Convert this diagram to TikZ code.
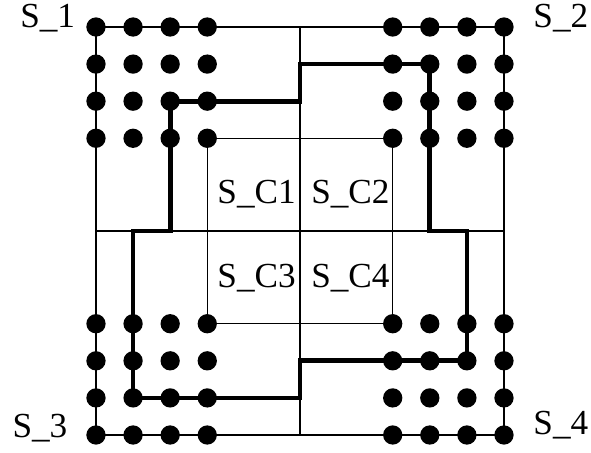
\documentclass[tikz,border=0pt]{standalone}
\usepackage{fontspec}
\setmainfont{Liberation Serif}
\usepackage{tikz}

\begin{document}
\begin{tikzpicture}[x=0.5cm,y=-0.5cm,
    dot/.style={circle,fill=black,inner sep=0pt,minimum size=0.26cm},
    lbl/.style={inner sep=0pt,font=\fontsize{13.5}{16}\selectfont}]
  \useasboundingbox (-2.588,-0.728) rectangle (13.346,11.459);
  % squares and the centre block
  \draw (0,0) rectangle (11,11);
  \draw (5.5,0) -- (5.5,11);
  \draw (0,5.5) -- (11,5.5);
  \draw (3,3) rectangle (8,8);
  % boundary
  \draw[line width=1.8pt] (5.5,1) -- (9,1) -- (9,5.5) -- (10,5.5) -- (10,9)
    -- (5.5,9) -- (5.5,10) -- (1,10) -- (1,5.5) -- (2,5.5) -- (2,2)
    -- (5.5,2) -- cycle;
  % corner points
  \foreach \c in {0,1,2,3,8,9,10,11}
    \foreach \r in {0,1,2,3,8,9,10,11}
      \node[dot] (d-\c-\r) at (\c,\r) {};
  \node[lbl,anchor=base east] (S1) at (-0.55,0) {S\_1};
  \node[lbl,anchor=base west] (S2) at (11.78,0) {S\_2};
  \node[lbl,anchor=base east] (S3) at (-0.76,11.08) {S\_3};
  \node[lbl,anchor=base west] (S4) at (11.78,10.98) {S\_4};
  \node[lbl,anchor=base] (SC1) at (4.33,4.75) {S\_C1};
  \node[lbl,anchor=base] (SC2) at (6.86,4.75) {S\_C2};
  \node[lbl,anchor=base] (SC3) at (4.33,7.03) {S\_C3};
  \node[lbl,anchor=base] (SC4) at (6.86,7.03) {S\_C4};
\end{tikzpicture}
\end{document}
